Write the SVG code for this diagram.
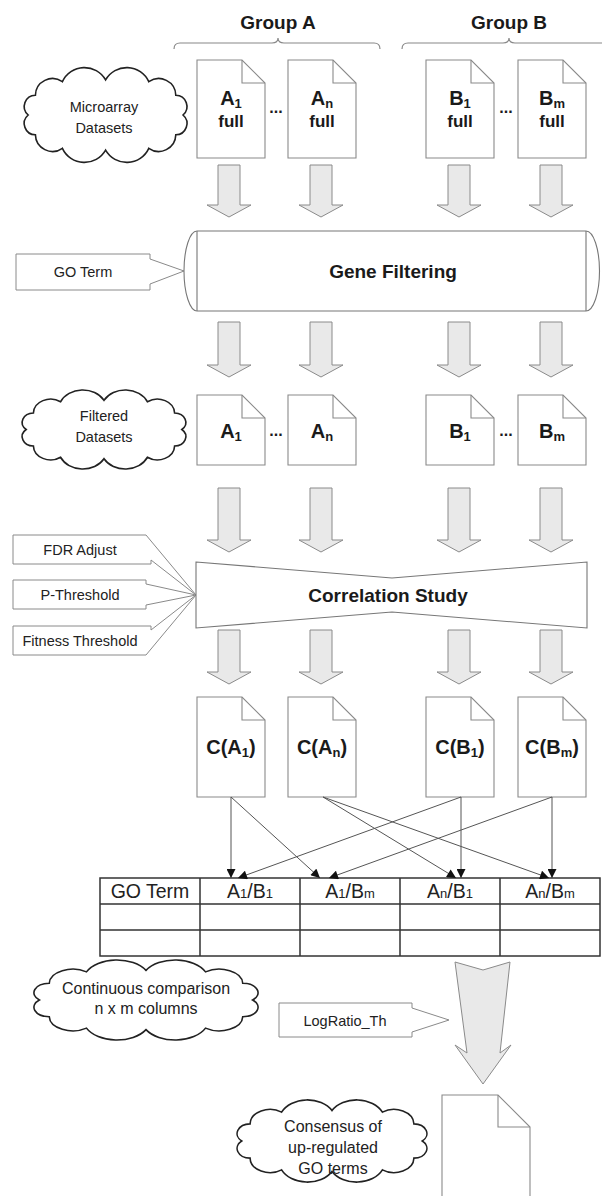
<svg xmlns="http://www.w3.org/2000/svg" width="602" height="1196" viewBox="0 0 602 1196">
<style>
text{font-family:"Liberation Sans",Arial,sans-serif;fill:#1a1a1a}
.grp{font-size:19px;font-weight:bold;text-anchor:middle}
.dl{font-size:20px;font-weight:bold;text-anchor:middle}
.full{font-size:17px;font-weight:bold;text-anchor:middle}
.dots{font-size:16px;font-weight:bold;text-anchor:middle}
.big{font-size:19px;font-weight:bold;text-anchor:middle}
.cl{font-size:14.5px;text-anchor:middle;fill:#222}
.cl16{font-size:16px;text-anchor:middle;fill:#222}
.th{font-size:19.5px;text-anchor:middle;fill:#222}
.doc{fill:#fff;stroke:#8a8a8a;stroke-width:1.1}
.fold{fill:none;stroke:#8a8a8a;stroke-width:1.1}
.blk{fill:#e9e9e9;stroke:#8a8a8a;stroke-width:1}
.cloud{fill:#fff;stroke:#222;stroke-width:1.6}
.co{fill:#fff;stroke:#8a8a8a;stroke-width:1}
.proc{fill:#fff;stroke:#777;stroke-width:1.1}
.brace{fill:none;stroke:#888;stroke-width:1.2}
.conn{fill:none;stroke:#555;stroke-width:1}
.tbl{fill:none;stroke:#333;stroke-width:1.5}
</style>
<defs>
<symbol id="cloudS" viewBox="0 0 200 100" preserveAspectRatio="none" overflow="visible">
<path class="cloud" vector-effect="non-scaling-stroke" d="M22,28 A19,19 0 0 1 52,13 A27,27 0 0 1 100,11 A27,27 0 0 1 148,13 A19,19 0 0 1 178,28 A12.5,12.5 0 0 1 186,50 A12.5,12.5 0 0 1 178,72 A19,19 0 0 1 148,87 A27,27 0 0 1 100,89 A27,27 0 0 1 52,87 A19,19 0 0 1 22,72 A12.5,12.5 0 0 1 14,50 A12.5,12.5 0 0 1 22,28 Z"/>
</symbol>
<path id="blk1" class="blk" d="M-11,0 L11,0 L11,40 L22,40 L0,52 L-22,40 L-11,40 Z"/>
<path id="blk2" class="blk" d="M-11,0 L11,0 L11,43 L22,43 L0,55 L-22,43 L-11,43 Z"/>
<path id="blk3" class="blk" d="M-11,0 L11,0 L11,52 L22,52 L0,64 L-22,52 L-11,52 Z"/>
<path id="blk4" class="blk" d="M-11,0 L11,0 L11,42 L22,42 L0,54 L-22,42 L-11,42 Z"/>
<marker id="ah" viewBox="0 0 10 10" refX="10" refY="5" markerWidth="10" markerHeight="9" markerUnits="userSpaceOnUse" orient="auto">
<path d="M0,0 L10,5 L0,10 Z" fill="#111"/>
</marker>
</defs>

<g id="group-a-label">
<text class="grp" x="278" y="29">Group A</text>
<path class="brace" d="M174,49 Q174,43 180,43 L272,43 Q278,43 278,38 Q278,43 284,43 L374,43 Q380,43 380,49"/>
</g>
<g id="group-b-label">
<text class="grp" x="509" y="29">Group B</text>
<path class="brace" d="M402,49 Q402,43 408,43 L503,43 Q509,43 509,38 Q509,43 515,43 L610,43 Q616,43 616,49"/>
</g>

<g id="microarray-cloud">
<use href="#cloudS" x="15.6" y="70" width="180" height="90"/>
<text class="cl" x="104" y="112">Microarray</text>
<text class="cl" x="104" y="133">Datasets</text>
</g>

<g id="doc-a1-full">
<path class="doc" d="M197,60 h45 l23,23 v75 h-68 Z"/><path class="fold" d="M242,60 v23 h23"/>
<text class="dl" x="231" y="105">A<tspan font-size="13" dy="3">1</tspan></text>
<text class="full" x="231" y="127">full</text>
</g>
<text class="dots" x="276" y="113">...</text>
<g id="doc-an-full">
<path class="doc" d="M288,60 h45 l23,23 v75 h-68 Z"/><path class="fold" d="M333,60 v23 h23"/>
<text class="dl" x="322" y="105">A<tspan font-size="13" dy="3">n</tspan></text>
<text class="full" x="322" y="127">full</text>
</g>
<g id="doc-b1-full">
<path class="doc" d="M426,60 h45 l23,23 v75 h-68 Z"/><path class="fold" d="M471,60 v23 h23"/>
<text class="dl" x="460" y="105">B<tspan font-size="13" dy="3">1</tspan></text>
<text class="full" x="460" y="127">full</text>
</g>
<text class="dots" x="506" y="113">...</text>
<g id="doc-bm-full">
<path class="doc" d="M518,60 h45 l23,23 v75 h-68 Z"/><path class="fold" d="M563,60 v23 h23"/>
<text class="dl" x="552" y="105">B<tspan font-size="13" dy="3">m</tspan></text>
<text class="full" x="552" y="127">full</text>
</g>

<g id="go-term-input">
<path class="co" d="M16,254 H150 V259 L184,271 L150,284 V290 H16 Z"/>
<text class="cl" x="83" y="277">GO Term</text>
</g>

<g id="gene-filtering">
<path class="proc" d="M197,231 H586 A13.5,40 0 0 1 586,311 H197 A13,40 0 0 1 197,231 Z"/>
<path class="proc" d="M197,231 V311 M586,231 V311"/>
<text class="big" x="393" y="278">Gene Filtering</text>
</g>

<g id="filtered-cloud">
<use href="#cloudS" x="13.5" y="392" width="181" height="75"/>
<text class="cl" x="104" y="421">Filtered</text>
<text class="cl" x="104" y="442">Datasets</text>
</g>

<g id="doc-a1">
<path class="doc" d="M197,395 h45 l23,23 v47 h-68 Z"/><path class="fold" d="M242,395 v23 h23"/>
<text class="dl" x="231" y="438">A<tspan font-size="13" dy="3">1</tspan></text>
</g>
<text class="dots" x="276" y="436">...</text>
<g id="doc-an">
<path class="doc" d="M288,395 h45 l23,23 v47 h-68 Z"/><path class="fold" d="M333,395 v23 h23"/>
<text class="dl" x="322" y="438">A<tspan font-size="13" dy="3">n</tspan></text>
</g>
<g id="doc-b1">
<path class="doc" d="M426,395 h45 l23,23 v47 h-68 Z"/><path class="fold" d="M471,395 v23 h23"/>
<text class="dl" x="460" y="438">B<tspan font-size="13" dy="3">1</tspan></text>
</g>
<text class="dots" x="506" y="436">...</text>
<g id="doc-bm">
<path class="doc" d="M518,395 h45 l23,23 v47 h-68 Z"/><path class="fold" d="M563,395 v23 h23"/>
<text class="dl" x="552" y="438">B<tspan font-size="13" dy="3">m</tspan></text>
</g>

<g id="fdr-adjust">
<path class="co" d="M13,535 H146 L196,595 L151,560 V564 H13 Z"/>
<text class="cl" x="80" y="555">FDR Adjust</text>
</g>
<g id="p-threshold">
<path class="co" d="M13,580 H146 V584 L196,595 L146,605 V609 H13 Z"/>
<text class="cl" x="80" y="600">P-Threshold</text>
</g>
<g id="fitness-threshold">
<path class="co" d="M13,626 H151 V630 L196,595 L146,655 H13 Z"/>
<text class="cl" x="80" y="646">Fitness Threshold</text>
</g>

<g id="correlation-study">
<path class="proc" d="M196,562 L392,578 L587,562 V628 L392,612 L196,628 Z"/>
<text class="big" x="388" y="602" font-size="20.5">Correlation Study</text>
</g>

<g id="doc-ca1">
<path class="doc" d="M197,697 h45 l23,23 v77 h-68 Z"/><path class="fold" d="M242,697 v23 h23"/>
<text class="dl" x="231" y="754">C(A<tspan font-size="13" dy="3">1</tspan><tspan dy="-3">)</tspan></text>
</g>
<g id="doc-can">
<path class="doc" d="M288,697 h45 l23,23 v77 h-68 Z"/><path class="fold" d="M333,697 v23 h23"/>
<text class="dl" x="322" y="754">C(A<tspan font-size="13" dy="3">n</tspan><tspan dy="-3">)</tspan></text>
</g>
<g id="doc-cb1">
<path class="doc" d="M426,697 h45 l23,23 v77 h-68 Z"/><path class="fold" d="M471,697 v23 h23"/>
<text class="dl" x="460" y="754">C(B<tspan font-size="13" dy="3">1</tspan><tspan dy="-3">)</tspan></text>
</g>
<g id="doc-cbm">
<path class="doc" d="M518,697 h45 l23,23 v77 h-68 Z"/><path class="fold" d="M563,697 v23 h23"/>
<text class="dl" x="552" y="754">C(B<tspan font-size="13" dy="3">m</tspan><tspan dy="-3">)</tspan></text>
</g>

<g id="comparison-table">
<rect class="tbl" x="100" y="878" width="500" height="78"/>
<path class="tbl" d="M100,904 H600 M100,930 H600 M200,878 V956 M300,878 V956 M400,878 V956 M500,878 V956"/>
<text class="th" x="150" y="898">GO Term</text>
<text class="th" x="250" y="898">A<tspan font-size="13">1</tspan>/B<tspan font-size="13">1</tspan></text>
<text class="th" x="350" y="898">A<tspan font-size="13">1</tspan>/B<tspan font-size="13">m</tspan></text>
<text class="th" x="450" y="898">A<tspan font-size="13">n</tspan>/B<tspan font-size="13">1</tspan></text>
<text class="th" x="550" y="898">A<tspan font-size="13">n</tspan>/B<tspan font-size="13">m</tspan></text>
</g>

<g id="continuous-cloud">
<use href="#cloudS" x="22" y="962" width="248" height="76"/>
<text class="cl16" x="146" y="994">Continuous comparison</text>
<text class="cl16" x="146" y="1014">n x m columns</text>
</g>

<g id="logratio-input">
<path class="co" d="M279,1003 H412 V1008 L449,1020 L412,1032 V1037 H279 Z"/>
<text class="cl" x="345" y="1026">LogRatio_Th</text>
</g>

<g id="final-doc">
<path class="doc" d="M442,1210 V1095 H498 L530,1127 V1210 Z"/><path class="fold" d="M498,1095 v32 h32"/>
</g>

<g id="consensus-cloud">
<use href="#cloudS" x="227" y="1102" width="210" height="78"/>
<text class="cl16" x="333" y="1132">Consensus of</text>
<text class="cl16" x="333" y="1153">up-regulated</text>
<text class="cl16" x="333" y="1174">GO terms</text>
</g>

<g id="connectors">
<use href="#blk1" x="229" y="165"/><use href="#blk1" x="321" y="165"/><use href="#blk1" x="459" y="165"/><use href="#blk1" x="551" y="165"/>
<use href="#blk2" x="229" y="322"/><use href="#blk2" x="321" y="322"/><use href="#blk2" x="459" y="322"/><use href="#blk2" x="551" y="322"/>
<use href="#blk3" x="229" y="488"/><use href="#blk3" x="321" y="488"/><use href="#blk3" x="459" y="488"/><use href="#blk3" x="551" y="488"/>
<use href="#blk4" x="229" y="630"/><use href="#blk4" x="321" y="630"/><use href="#blk4" x="459" y="630"/><use href="#blk4" x="551" y="630"/>
<path class="conn" marker-end="url(#ah)" d="M231,797 L231,878"/>
<path class="conn" marker-end="url(#ah)" d="M231,797 L320,878"/>
<path class="conn" marker-end="url(#ah)" d="M323,797 L456,878"/>
<path class="conn" marker-end="url(#ah)" d="M323,797 L549,878"/>
<path class="conn" marker-end="url(#ah)" d="M461,797 L238,878"/>
<path class="conn" marker-end="url(#ah)" d="M461,797 L461,878"/>
<path class="conn" marker-end="url(#ah)" d="M552,797 L329,878"/>
<path class="conn" marker-end="url(#ah)" d="M552,797 L552,878"/>
<path class="blk" d="M455,962 L483,970 L510,962 L500,1053 L511,1045 L483,1084 L455,1045 L467,1053 Z"/>
</g>
</svg>
